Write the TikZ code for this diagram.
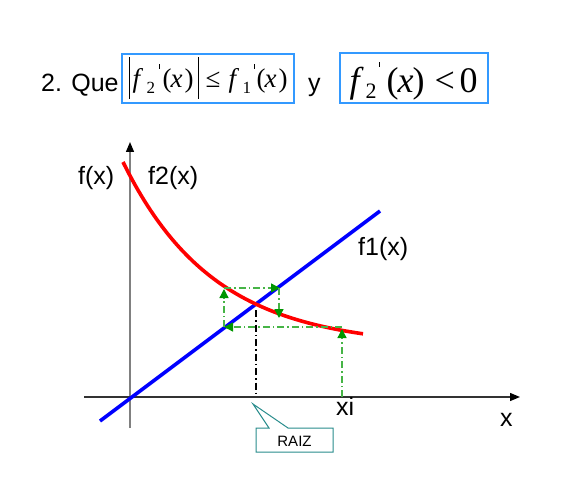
\documentclass[tikz,border=0pt]{standalone}
\usepackage{fontspec}
\setmainfont{Liberation Sans}
\newfontfamily\tms{Liberation Serif}
\usetikzlibrary{arrows.meta}
\definecolor{boxblue}{RGB}{51,153,255}
\definecolor{grn}{RGB}{70,180,70}
\definecolor{grnd}{RGB}{0,150,0}
\definecolor{calloutc}{RGB}{40,140,140}
\definecolor{axgray}{RGB}{128,128,128}
\definecolor{axdark}{RGB}{50,50,50}
\newcommand{\gat}[2]{\rlap{\kern#1pt#2}}
\newcommand{\bbar}{\rule[-11pt]{1pt}{42pt}}
\newcommand{\tick}[2]{\raisebox{#1}{\rule{0.8pt}{#2}}}
\newcommand{\subsz}[3]{\raisebox{#2}{\fontsize{#1}{#1}\selectfont #3}}
\begin{document}
\begin{tikzpicture}[x=1pt,y=-1pt,
  lbl/.style={font=\fontsize{25}{25}\selectfont, inner sep=0, anchor=base west},
  mbox/.style={draw=boxblue, line width=1.2pt, inner sep=0},
  gline/.style={draw=grn, line width=1.3pt, dash pattern=on 7pt off 3pt on 1.5pt off 3pt,
     -{Triangle[length=9pt,width=9pt,color=grnd]}},
  axis/.style={line width=1.3pt, -{Triangle[length=10pt,width=8pt,color=black]}}]
\useasboundingbox (0,0) rectangle (584,500);

% title
\node[lbl] (t1) at (41,92) {2. Que};
\node[mbox, minimum width=172pt, minimum height=49pt] (b1) at (208,78.5) {};
\node[anchor=base west, inner sep=0] (m1) at (128,88) {\tms\fontsize{27}{27}\selectfont
  \gat{0}{\bbar}%
  \gat{4}{\textit{f}}%
  \gat{18}{\subsz{17}{-6pt}{2}}%
  \gat{30}{\tick{19pt}{5pt}}%
  \gat{34}{(}%
  \gat{42}{\textit{x}}%
  \gat{56}{)}%
  \gat{69}{\bbar}%
  \gat{77}{≤}%
  \gat{100}{\textit{f}}%
  \gat{114}{\subsz{17}{-6pt}{1}}%
  \gat{125}{\tick{19pt}{5pt}}%
  \gat{128}{(}%
  \gat{136}{\textit{x}}%
  \gat{150}{)}};
\node[lbl] (t2) at (308,92) {y};
\node[mbox, minimum width=148pt, minimum height=50pt] (b2) at (414,78) {};
\node[anchor=base west, inner sep=0] (m2) at (340,93) {\tms\fontsize{36}{36}\selectfont
  \gat{9}{\textit{f}}%
  \gat{25}{\subsz{22}{-6pt}{2}}%
  \gat{38}{\tick{26pt}{5pt}}%
  \gat{46}{(}%
  \gat{57}{\textit{x}}%
  \gat{72}{)}%
  \gat{94}{<}%
  \gat{119}{0}};

% axes
\coordinate (yb) at (130,428);
\coordinate (yt) at (130,142);
\coordinate (xl) at (84,397);
\coordinate (xr) at (520,397);
\draw[axis, draw=axgray] (yb) -- (yt);
\draw[axis, draw=axdark] (xl) -- (xr);

% f1 line
\coordinate (l1) at (100,421);
\coordinate (l2) at (380,211);
\draw[blue, line width=3.6pt] (l1) -- (l2);

% f2 curve
\draw[red, line width=3.6pt] plot[domain=123:363, samples=80] (\x, {347-185*exp(-0.011*(\x-123))});

% root dash-dot
\coordinate (r1) at (256,310);
\coordinate (r2) at (256,397);
\draw[black, line width=1.2pt, dash pattern=on 7pt off 3pt on 1.5pt off 3pt] (r1) -- (r2);

% iteration
\coordinate (p0) at (342,397);
\coordinate (p1) at (342,329);
\coordinate (p1b) at (342,327);
\coordinate (p2) at (224,327);
\coordinate (p3) at (224,289);
\coordinate (p3b) at (224,288);
\coordinate (p4) at (280,288);
\coordinate (p4b) at (279,288);
\coordinate (p5) at (279,318);
\draw[gline] (p0) -- (p1);
\draw[gline] (p1b) -- (p2);
\draw[gline] (p2) -- (p3);
\draw[gline] (p3b) -- (p4);
\draw[gline] (p4b) -- (p5);

% labels
\node[lbl] (fx) at (78,185) {f(x)};
\node[lbl] (f2) at (148,185) {f2(x)};
\node[lbl] (f1) at (358,255) {f1(x)};
\node[lbl] (xi) at (336,415) {xi};
\node[lbl] (xa) at (500,426) {x};

% callout
\draw[calloutc, line width=1pt, fill=white] (256,428) -- (269,428) -- (253,404) -- (288,428) -- (333,428) -- (333,452) -- (256,452) -- cycle;
\node[font=\fontsize{15}{15}\selectfont, inner sep=0] (raiz) at (294.5,441) {RAIZ};
\end{tikzpicture}
\end{document}
